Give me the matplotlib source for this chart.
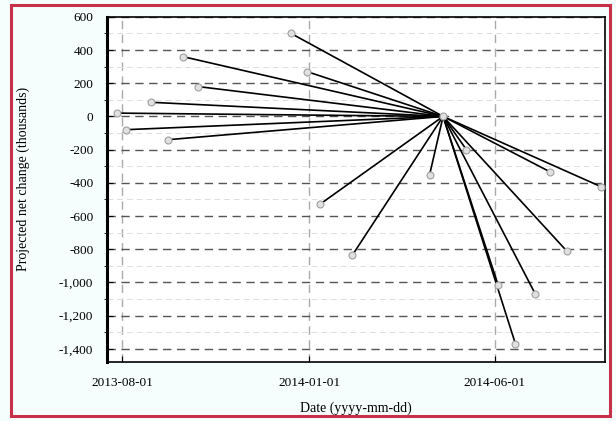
import matplotlib

matplotlib.use("Agg")
import matplotlib.pyplot as plt
import matplotlib.dates as mdates
from matplotlib.patches import Rectangle
from matplotlib.ticker import FuncFormatter, MultipleLocator
import numpy as np

plt.rcParams["font.family"] = ["Liberation Serif", "DejaVu Serif"]

# convergence point
hub_date = "2014-04-20"
hub_value = 0

# outer ends of each spoke
spoke_dates = [
    "2013-12-17", "2013-09-20", "2013-10-02", "2013-08-25", "2013-08-04",
    "2013-09-08", "2013-12-30", "2013-07-28",
    "2014-08-27", "2014-07-16", "2014-07-30", "2014-07-04", "2014-06-18",
    "2014-06-04", "2014-01-10", "2014-02-05", "2014-04-09", "2014-05-09",
]
spoke_values = [
    500, 360, 180, 85, -80,
    -140, 270, 20,
    -424, -333, -812, -1067, -1370,
    -1018, -527, -836, -351, -200,
]

x_ticks = ["2013-08-01", "2014-01-01", "2014-06-01"]
y_ticks = [600, 400, 200, 0, -200, -400, -600, -800, -1000, -1200, -1400]

fig = plt.figure(figsize=(6.16, 4.21), dpi=100)
fig.patch.set_facecolor("#f6fdfd")
fig.patches.append(Rectangle((0.018, 0.012), 0.972, 0.975, transform=fig.transFigure,
                             fill=False, edgecolor="#c8304a", linewidth=2.2))
ax = fig.add_axes([0.174, 0.140, 0.808, 0.820])
ax.set_facecolor("white")

hub = np.datetime64(hub_date)
for d, v in zip(spoke_dates, spoke_values):
    ax.plot([np.datetime64(d), hub], [v, hub_value], color="black", lw=1.2, zorder=3)
    ax.plot(np.datetime64(d), v, "o", ms=5, mfc="#e0e0e0", mec="#a0a0a0", mew=0.8, zorder=4)
ax.plot(hub, hub_value, "o", ms=5, mfc="#e0e0e0", mec="#a0a0a0", mew=0.8, zorder=4)

ax.set_xlim(np.datetime64("2013-07-20"), np.datetime64("2014-08-30"))
ax.set_ylim(-1480, 600)
ax.set_xticks([np.datetime64(t) for t in x_ticks])
ax.xaxis.set_major_formatter(mdates.DateFormatter("%Y-%m-%d"))
ax.set_yticks(y_ticks)
ax.yaxis.set_minor_locator(MultipleLocator(100))
ax.yaxis.set_major_formatter(FuncFormatter(lambda v, p: f"{int(v):,}"))

ax.grid(axis="y", which="major", ls=(0, (6, 4)), color="#555555", lw=1.0)
ax.grid(axis="y", which="minor", ls=(0, (6, 4)), color="#dddddd", lw=0.7)
ax.grid(axis="x", which="major", ls=(0, (6, 4)), color="#aaaaaa", lw=1.0)

for s in ax.spines.values():
    s.set_linewidth(1.2)
ax.spines["left"].set_linewidth(2.2)
ax.tick_params(labelsize=9.5, direction="in", length=4)
ax.tick_params(axis="x", pad=11)
ax.tick_params(axis="y", pad=10)

ax.set_xlabel("Date (yyyy-mm-dd)", fontsize=10)
ax.set_ylabel("Projected net change (thousands)", fontsize=10)
ax.yaxis.set_label_coords(-0.155, 0.53)
ax.xaxis.set_label_coords(0.5, -0.115)

fig.savefig("out.png", dpi=100)
